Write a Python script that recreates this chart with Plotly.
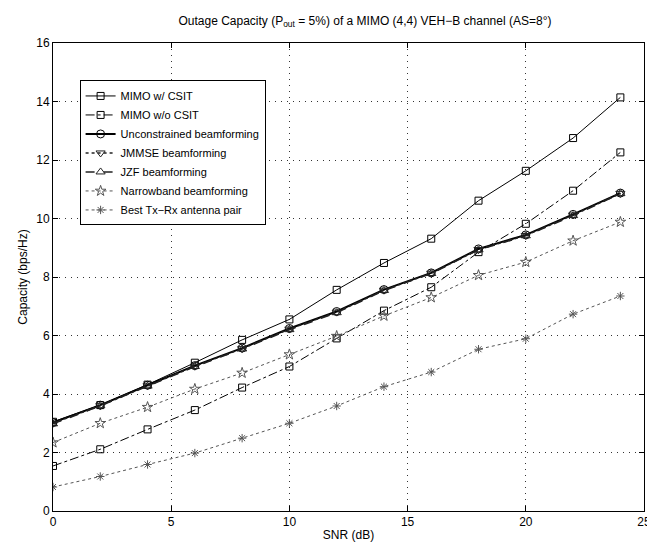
import plotly.graph_objects as go

snr = [0, 2, 4, 6, 8, 10, 12, 14, 16, 18, 20, 22, 24]
mimo_w_csit = [3.05, 3.62, 4.32, 5.07, 5.85, 6.55, 7.56, 8.48, 9.31, 10.61, 11.63, 12.75, 14.14]
mimo_wo_csit = [1.54, 2.11, 2.79, 3.45, 4.22, 4.94, 5.90, 6.85, 7.65, 8.85, 9.82, 10.95, 12.26]
unconstrained = [3.02, 3.62, 4.30, 4.97, 5.57, 6.24, 6.82, 7.57, 8.14, 8.96, 9.44, 10.14, 10.87]
jmmse = [3.00, 3.60, 4.28, 4.95, 5.55, 6.22, 6.80, 7.55, 8.13, 8.94, 9.42, 10.12, 10.86]
jzf = [2.98, 3.60, 4.27, 4.94, 5.54, 6.20, 6.78, 7.54, 8.12, 8.93, 9.41, 10.10, 10.85]
narrowband = [2.34, 3.00, 3.55, 4.17, 4.72, 5.35, 5.98, 6.67, 7.30, 8.06, 8.51, 9.24, 9.88]
best_pair = [0.82, 1.18, 1.59, 1.98, 2.49, 3.00, 3.59, 4.25, 4.75, 5.53, 5.89, 6.73, 7.35]

x_ticks = [0, 5, 10, 15, 20, 25]
y_ticks = [0, 2, 4, 6, 8, 10, 12, 14, 16]

series = [
    ("MIMO w/ CSIT", mimo_w_csit, "black", "solid", 1, "square-open", 7),
    ("MIMO w/o CSIT", mimo_wo_csit, "black", "dashdot", 1, "square-open", 7),
    ("Unconstrained beamforming", unconstrained, "black", "solid", 2, "circle-open", 8),
    ("JMMSE beamforming", jmmse, "#222", "dot", 1.6, "triangle-down-open", 8),
    ("JZF beamforming", jzf, "#222", "dash", 1.6, "triangle-up-open", 8),
    ("Narrowband beamforming", narrowband, "#555", "dot", 1, "star-open", 8),
    ("Best Tx\u2212Rx antenna pair", best_pair, "#555", "dot", 1, "asterisk-open", 7),
]

fig = go.Figure()
for name, ys, col, dash, w, sym, sz in series:
    fig.add_trace(go.Scatter(
        x=snr, y=ys, name=name, mode="lines+markers",
        line=dict(color=col, dash=dash, width=w),
        marker=dict(symbol=sym, size=sz, color=col, line=dict(width=1, color=col)),
    ))

font_family = "Liberation Sans, Arial"
axis_common = dict(
    showline=True, linecolor="black", linewidth=1, mirror="ticks",
    ticks="inside", ticklen=5, tickcolor="black",
    showgrid=True, gridcolor="#333", griddash="1px,5px", gridwidth=1,
    zeroline=False, tickfont=dict(family=font_family, size=12, color="black"),
    title_font=dict(family=font_family, size=12, color="black"),
)

fig.update_xaxes(range=[0, 25], tickvals=x_ticks, title_text="SNR (dB)", title_standoff=2, **axis_common)
fig.update_yaxes(range=[0, 16], tickvals=y_ticks, title_text="Capacity (bps/Hz)", title_standoff=6, **axis_common)

fig.update_layout(
    width=655, height=545,
    margin=dict(l=45, r=14, t=35, b=42),
    paper_bgcolor="white", plot_bgcolor="white",
    title=dict(
        text="Outage Capacity (P<sub>out</sub> = 5%) of a MIMO (4,4) VEH\u2212B channel (AS=8\u00b0)",
        x=0.545, xanchor="center", y=0.985, yanchor="top",
        font=dict(family=font_family, size=12, color="black"),
    ),
    legend=dict(
        x=0.045, y=0.92, xanchor="left", yanchor="top",
        bgcolor="white", bordercolor="black", borderwidth=1,
        font=dict(family=font_family, size=11, color="black"),
        tracegroupgap=0, itemwidth=30,
    ),
    showlegend=True,
)

fig.write_html("out.html")
